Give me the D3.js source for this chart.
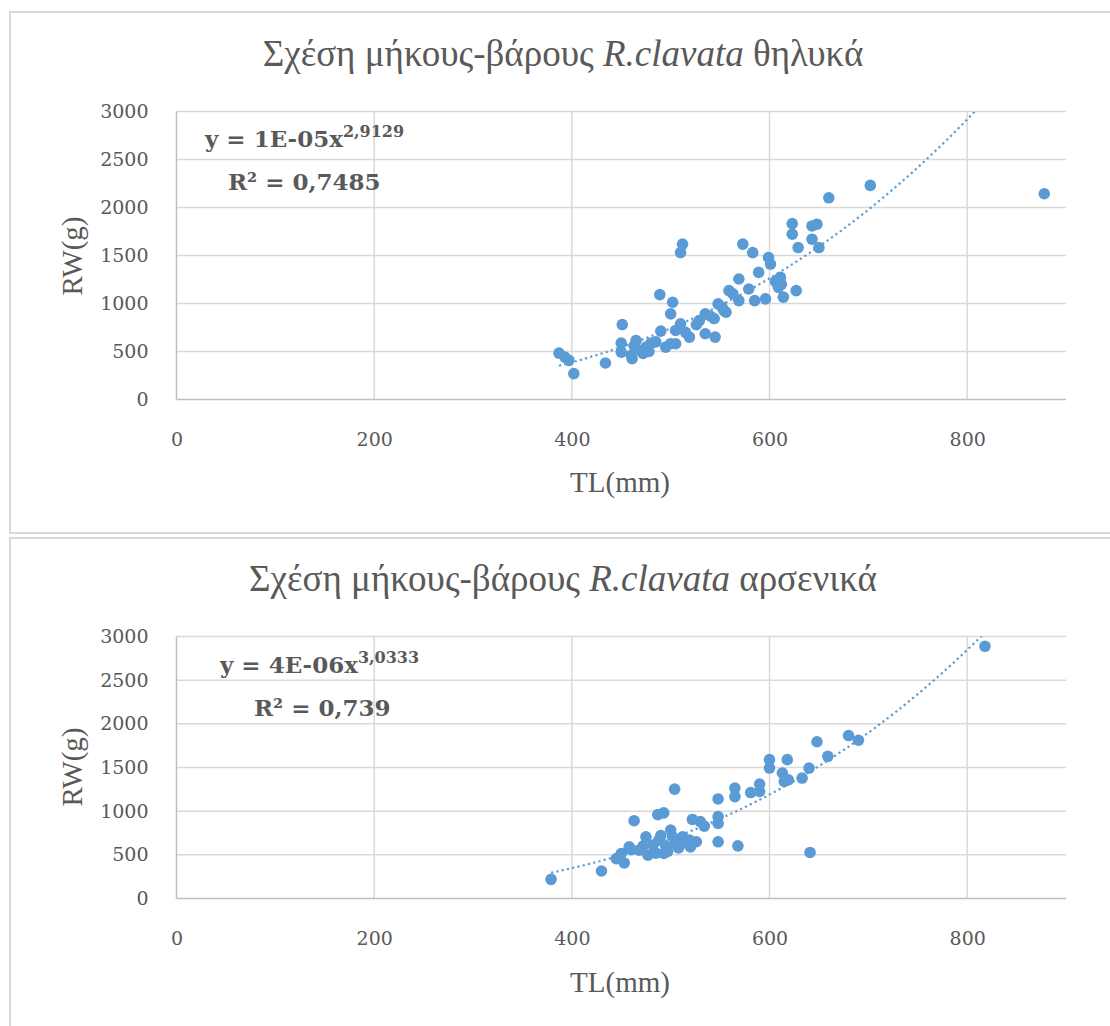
<!DOCTYPE html>
<html>
<head>
<meta charset="utf-8">
<script src="https://cdn.jsdelivr.net/npm/d3@7"></script>
<style>
  html, body { margin: 0; padding: 0; background: #ffffff; }
  svg { display: block; }
</style>
</head>
<body>
<svg id="chart" width="1110" height="1026"></svg>
<script>
// ---------- DATA ----------
const femaleTL = [387,393,397,402,434,451,450,450,460,463,465,470,461,475,480,478,489,490,495,
  500,502,505,510,500,505,512,510,519,529,535,535,545,544,548,554,559,569,569,579,573,583,585,596,
  589,599,601,611,609,614,627,623,623,629,643,648,643,650,660,702,878,
  515,526,540,552,556,563,606,612,472,485];
const femaleRW = [483,442,408,270,380,781,587,494,460,560,615,511,425,546,587,500,1092,712,546,
  892,1013,719,788,581,581,1618,1531,650,822,892,685,650,843,996,926,1134,1255,1030,1151,1618,1531,1030,1048,
  1324,1479,1411,1272,1168,1066,1134,1832,1722,1583,1808,1826,1670,1583,2101,2230,2143,
  700,780,870,960,909,1100,1230,1200,480,600];

const maleTL = [379,430,445,450,453,458,463,468,475,477,482,488,493,487,493,500,502,505,512,519,520,
  504,495,522,534,548,548,548,548,568,565,565,581,590,590,600,600,618,613,615,619,633,640,648,659,
  641,680,690,818,472,485,497,508,515,526,490,530,460];
const maleRW = [219,315,457,515,407,591,891,553,706,495,611,668,515,960,980,783,706,630,706,668,591,
  1252,600,905,829,1140,937,860,649,603,1264,1167,1213,1310,1225,1590,1494,1590,1437,1340,1359,1379,1494,1795,1628,
  527,1866,1812,2888,600,520,540,580,640,650,720,880,560];

const xTicks = [0, 200, 400, 600, 800];
const yTicks = [0, 500, 1000, 1500, 2000, 2500, 3000];
const xDomain = [0, 900];
const yDomain = [0, 3000];

const titleTop = ["Σχέση μήκους-βάρους ", "R.clavata", " θηλυκά"];
const titleBottom = ["Σχέση μήκους-βάρους ", "R.clavata", " αρσενικά"];
const eqTop = ["y = 1E-05x", "2,9129"];
const eqBottom = ["y = 4E-06x", "3,0333"];
const r2Top = "R² = 0,7485";
const r2Bottom = "R² = 0,739";
const xTitle = "TL(mm)";
const yTitle = "RW(g)";
// power trend parameters (y = a * x^b)
const trendTop = { a: 1.02e-5, b: 2.9129 };
const trendBottom = { a: 4.45e-6, b: 3.0333 };

// ---------- DRAW ----------
const svg = d3.select("#chart");
const BLUE = "#5b9bd5";
const TXT = "#595959";

function drawChart(opt) {
  const g = svg.append("g");
  g.append("rect").attr("x", opt.box[0]).attr("y", opt.box[1])
    .attr("width", opt.box[2]).attr("height", opt.box[3])
    .attr("fill", "#fff").attr("stroke", "#d9d9d9").attr("stroke-width", 2);

  const x = d3.scaleLinear().domain(xDomain).range([176.5, 1066]);
  const y = d3.scaleLinear().domain(yDomain).range([opt.y0, opt.y3000]);

  g.append("g").selectAll("line").data(yTicks.filter(d => d > 0)).join("line")
    .attr("x1", x(0)).attr("x2", x(900)).attr("y1", d => y(d)).attr("y2", d => y(d))
    .attr("stroke", "#d9d9d9").attr("stroke-width", 1.5);
  g.append("g").selectAll("line").data(xTicks.filter(d => d > 0)).join("line")
    .attr("x1", d => x(d)).attr("x2", d => x(d)).attr("y1", y(0)).attr("y2", y(3000))
    .attr("stroke", "#d9d9d9").attr("stroke-width", 1.5);

  const xAxis = d3.axisBottom(x).tickValues(xTicks).tickSize(0).tickPadding(33).tickFormat(d3.format("d"));
  const yAxis = d3.axisLeft(y).tickValues(yTicks).tickSize(0).tickPadding(28).tickFormat(d3.format("d"));
  const gx = g.append("g").attr("transform", `translate(0,${y(0)})`).call(xAxis);
  const gy = g.append("g").attr("transform", `translate(${x(0)},0)`).call(yAxis);
  [gx, gy].forEach(a => {
    a.select(".domain").attr("stroke", "#bfbfbf").attr("stroke-width", 1.5);
    a.selectAll("text").attr("fill", TXT).attr("font-family", "DejaVu Serif")
      .attr("font-size", 19);
  });
  gx.select(".domain").attr("d", `M${x(0)},0H${x(900)}`);
  gy.select(".domain").attr("d", `M0,${y(0)}V${y(3000)}`);

  const cid = "clip" + opt.id;
  svg.append("clipPath").attr("id", cid).append("rect")
    .attr("x", x(0)).attr("y", y(3000)).attr("width", x(900) - x(0)).attr("height", y(0) - y(3000));

  const pts = opt.tl.map((t, i) => ({ t, w: opt.rw[i] }));
  g.append("g").selectAll("circle").data(pts).join("circle")
    .attr("cx", d => x(d.t)).attr("cy", d => y(d.w)).attr("r", 5.8)
    .attr("fill", BLUE);

  const xmin = d3.min(opt.tl), xmax = d3.max(opt.tl);
  const xs = d3.range(xmin, xmax + 0.5, 2);
  const line = d3.line().x(d => x(d)).y(d => y(opt.trend.a * Math.pow(d, opt.trend.b)));
  g.append("path").datum(xs).attr("d", line).attr("clip-path", `url(#${cid})`)
    .attr("fill", "none").attr("stroke", BLUE).attr("stroke-width", 2.2)
    .attr("stroke-dasharray", "2.2,3.2");

  const t = g.append("text").attr("x", 563).attr("y", opt.titleY).attr("text-anchor", "middle")
    .attr("font-family", "Liberation Serif").attr("font-size", 37).attr("fill", TXT);
  t.append("tspan").text(opt.title[0]);
  t.append("tspan").attr("font-style", "italic").text(opt.title[1]);
  t.append("tspan").text(opt.title[2]);

  g.append("text").attr("x", 620).attr("y", opt.xTitleY).attr("text-anchor", "middle")
    .attr("font-family", "Liberation Serif").attr("font-size", 29).attr("fill", TXT).text(xTitle);
  g.append("text").attr("transform", `translate(${opt.yTitleX},${opt.yTitleY}) rotate(-90)`)
    .attr("text-anchor", "middle").attr("font-family", "Liberation Serif")
    .attr("font-size", 29).attr("fill", TXT).text(yTitle);

  const e = g.append("text").attr("x", opt.eqX).attr("y", opt.eqY)
    .attr("font-family", "DejaVu Serif").attr("font-weight", "bold").attr("font-size", 23).attr("fill", TXT);
  e.append("tspan").text(opt.eq[0]);
  e.append("tspan").attr("font-size", 16).attr("dy", -10).text(opt.eq[1]);
  g.append("text").attr("x", opt.r2X).attr("y", opt.eqY + 43)
    .attr("font-family", "DejaVu Serif").attr("font-weight", "bold").attr("font-size", 23).attr("fill", TXT)
    .text(opt.r2);
}

drawChart({
  id: "top", box: [10, 12, 1110, 521], y0: 399.5, y3000: 111.5,
  tl: femaleTL, rw: femaleRW, trend: trendTop,
  title: titleTop, titleY: 66, xTitleY: 492, yTitleX: 82, yTitleY: 256,
  eq: eqTop, r2: r2Top, eqX: 205, eqY: 147, r2X: 228
});
drawChart({
  id: "bottom", box: [10, 538, 1110, 500], y0: 898.5, y3000: 636.5,
  tl: maleTL, rw: maleRW, trend: trendBottom,
  title: titleBottom, titleY: 591, xTitleY: 992, yTitleX: 82, yTitleY: 767,
  eq: eqBottom, r2: r2Bottom, eqX: 220, eqY: 673, r2X: 254
});
</script>
</body>
</html>
